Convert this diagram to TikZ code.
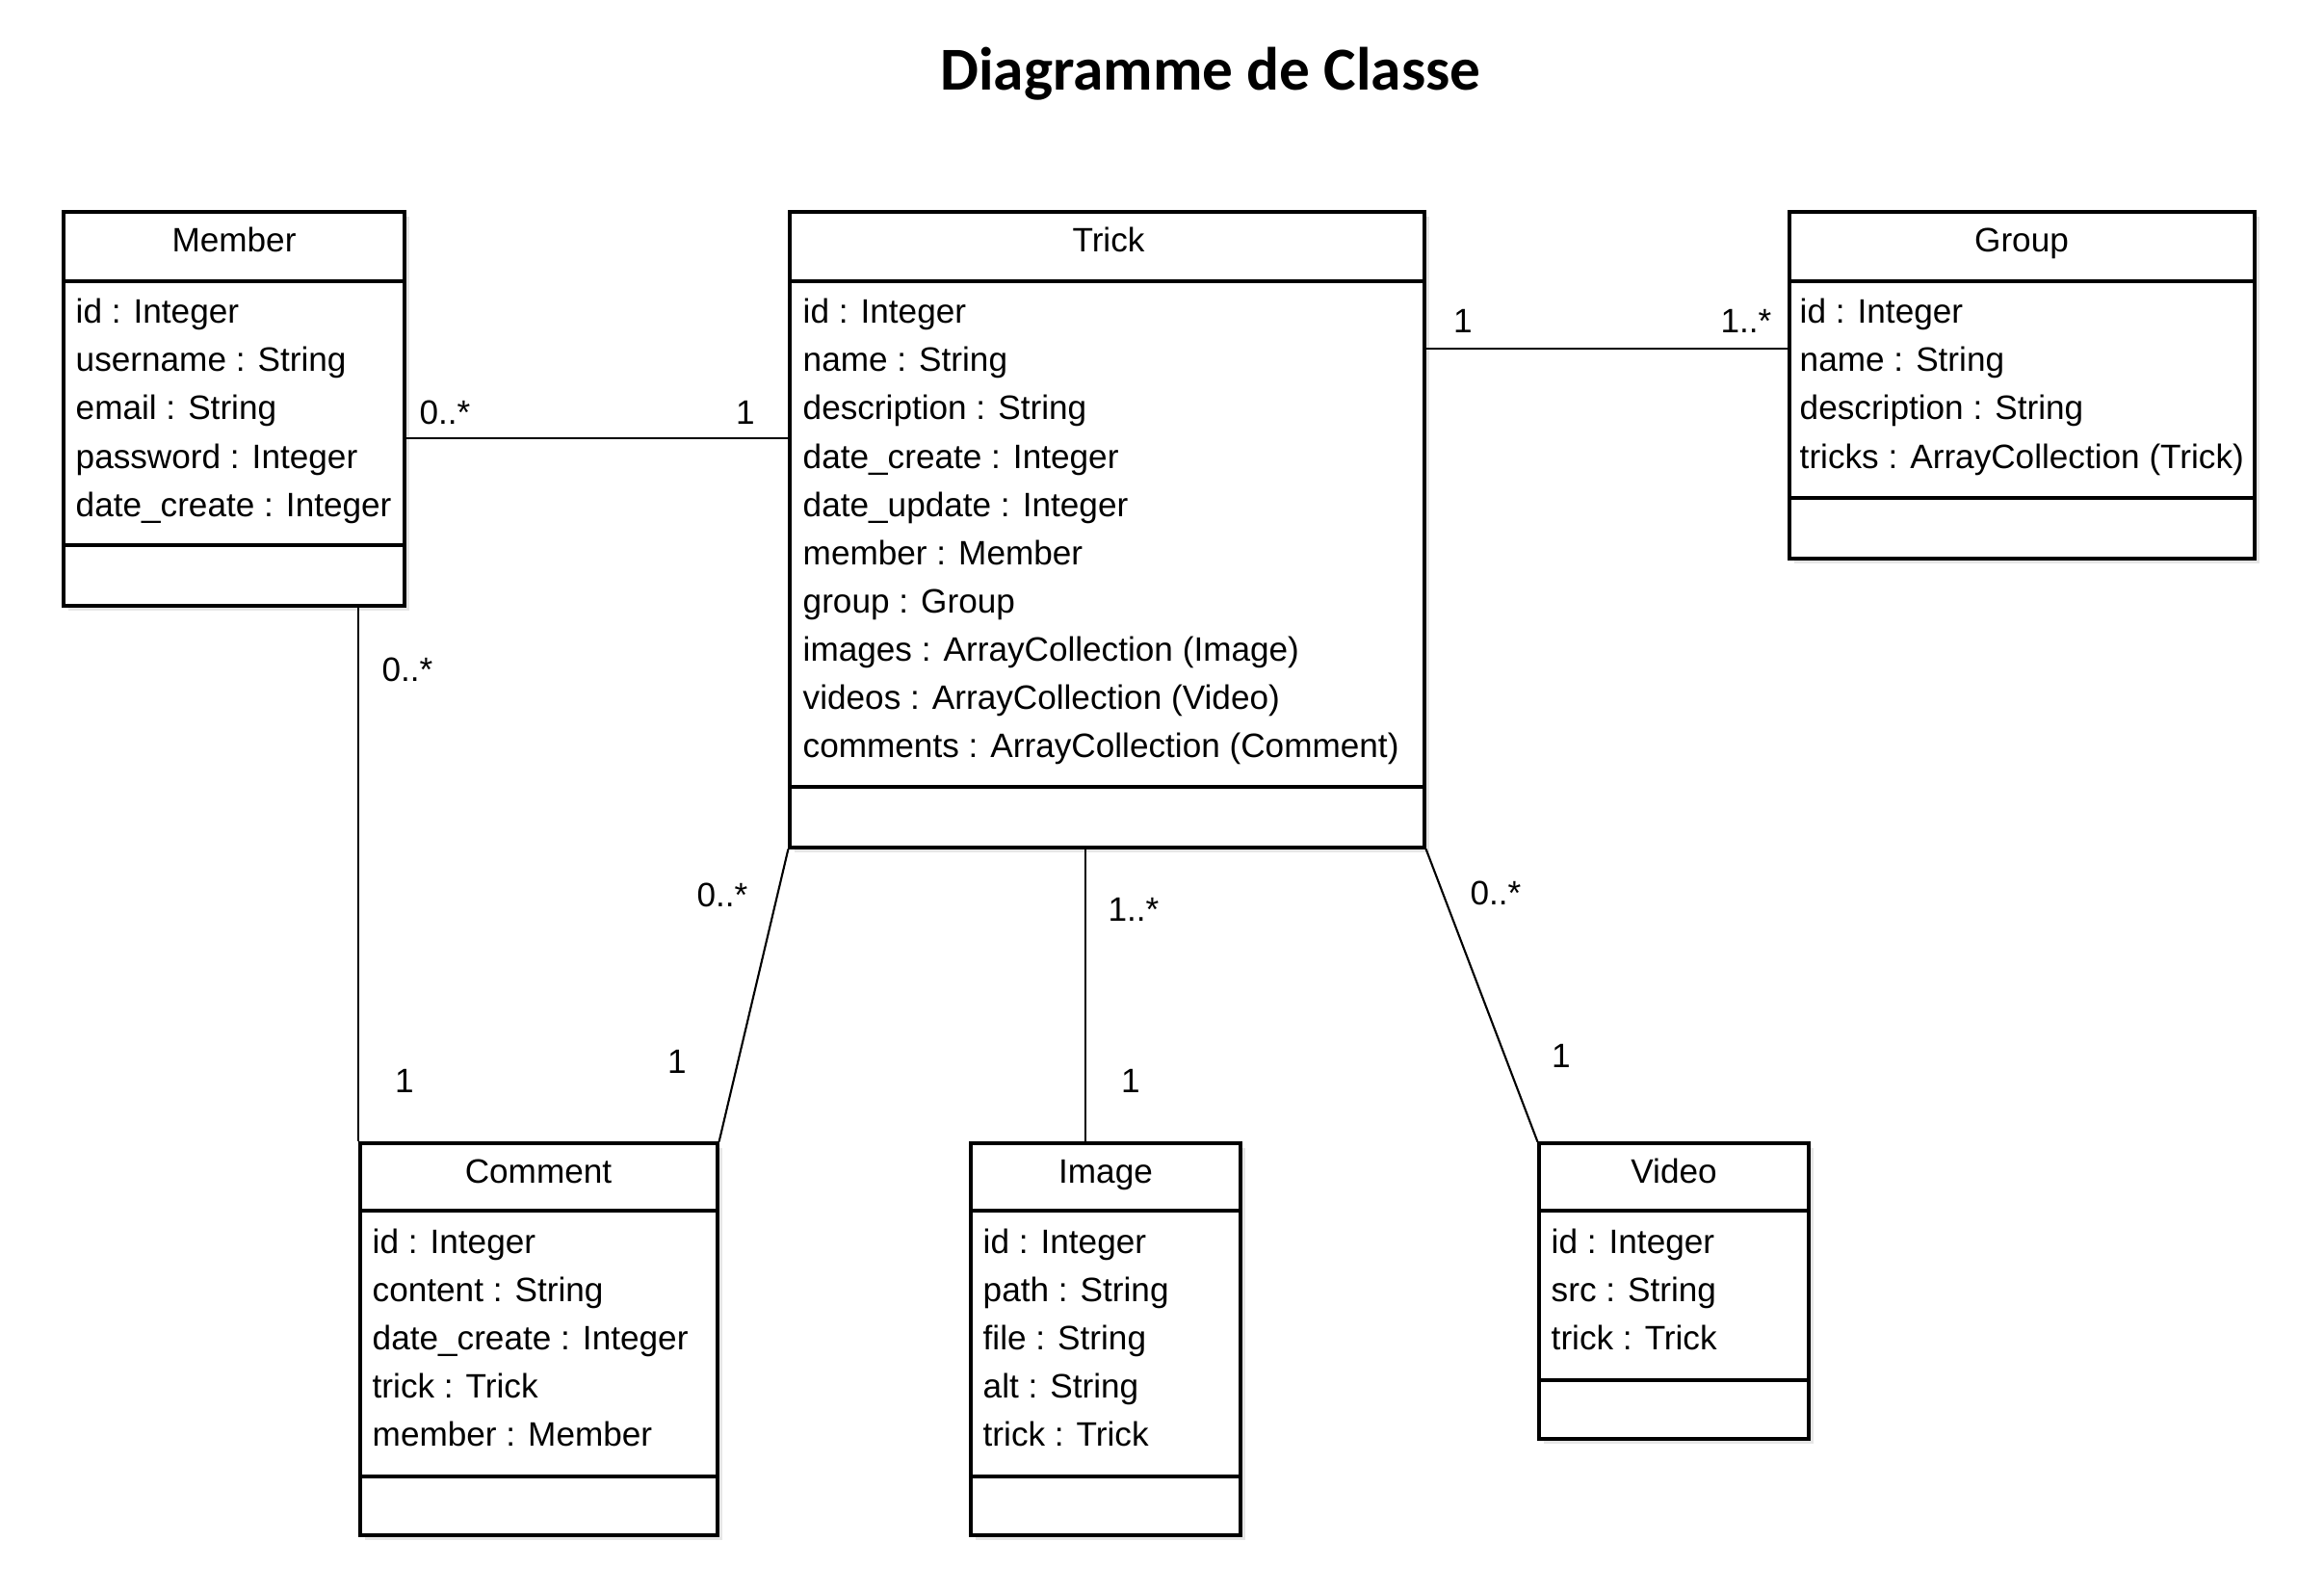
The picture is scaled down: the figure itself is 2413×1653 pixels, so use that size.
\documentclass[tikz,border=0pt]{standalone}
\usepackage{fontspec}
\setmainfont{Liberation Sans}
\newfontfamily\titlefont{Carlito}
\usetikzlibrary{fit,shadows}

\tikzset{
  classbox/.style={draw, line width=0.9pt, fill=white, inner sep=0pt,
    drop shadow={shadow xshift=0.05cm, shadow yshift=-0.05cm, opacity=0.2}},
  divider/.style={line width=0.9pt},
  txt/.style={inner sep=0pt, text height=0.89em, text depth=0.21em,
    font=\fontsize{10}{12}\selectfont},
  classname/.style={txt},
  attr/.style={txt, anchor=west},
  mult/.style={txt},
  assoc/.style={line width=0.6pt},
}

\begin{document}
\begin{tikzpicture}[x=0.01cm, y=-0.01cm]
  \useasboundingbox (0,0) rectangle (2413,1653);
  \node[font=\titlefont\bfseries\fontsize{18}{22}\selectfont] (title) at (1257,77) {Diagramme de Classe};

  % class boxes
  \node[classbox, fit={(66,220) (420,629)}] (member) {};
  \node[classbox, fit={(820,220) (1479,880)}] (trick) {};
  \node[classbox, fit={(1858,220) (2341,580)}] (group) {};
  \node[classbox, fit={(374,1187) (745,1594)}] (comment) {};
  \node[classbox, fit={(1008,1187) (1288,1594)}] (image) {};
  \node[classbox, fit={(1598,1187) (1878,1494)}] (video) {};

  \begin{scope}[divider]
    \draw (member.west |- 0,292) -- (member.east |- 0,292);
    \draw (member.west |- 0,566) -- (member.east |- 0,566);
    \draw (trick.west |- 0,292) -- (trick.east |- 0,292);
    \draw (trick.west |- 0,817) -- (trick.east |- 0,817);
    \draw (group.west |- 0,292) -- (group.east |- 0,292);
    \draw (group.west |- 0,517) -- (group.east |- 0,517);
    \draw (comment.west |- 0,1257) -- (comment.east |- 0,1257);
    \draw (comment.west |- 0,1533) -- (comment.east |- 0,1533);
    \draw (image.west |- 0,1257) -- (image.east |- 0,1257);
    \draw (image.west |- 0,1533) -- (image.east |- 0,1533);
    \draw (video.west |- 0,1257) -- (video.east |- 0,1257);
    \draw (video.west |- 0,1433) -- (video.east |- 0,1433);
  \end{scope}

  % class names
  \path
    (243,250) node[classname] (member-name){Member}
    (1151,250) node[classname] (trick-name){Trick}
    (2099,250) node[classname] (group-name){Group}
    (559,1217) node[classname] (comment-name){Comment}
    (1148,1217) node[classname] (image-name){Image}
    (1738,1217) node[classname] (video-name){Video};

  % attributes
  \path
    (78,324) node[attr] (member-1){id : Integer}
    (78,374) node[attr] (member-2){username : String}
    (78,424) node[attr] (member-3){email : String}
    (78,475) node[attr] (member-4){password : Integer}
    (78,525) node[attr] (member-5){date\_create : Integer};
  \path
    (833,324) node[attr] (trick-1){id : Integer}
    (833,374) node[attr] (trick-2){name : String}
    (833,424) node[attr] (trick-3){description : String}
    (833,475) node[attr] (trick-4){date\_create : Integer}
    (833,525) node[attr] (trick-5){date\_update : Integer}
    (833,575) node[attr] (trick-6){member : Member}
    (833,625) node[attr] (trick-7){group : Group}
    (833,675) node[attr] (trick-8){images : ArrayCollection (Image)}
    (833,725) node[attr] (trick-9){videos : ArrayCollection (Video)}
    (833,775) node[attr] (trick-10){comments : ArrayCollection (Comment)};
  \path
    (1868,324) node[attr] (group-1){id : Integer}
    (1868,374) node[attr] (group-2){name : String}
    (1868,424) node[attr] (group-3){description : String}
    (1868,475) node[attr] (group-4){tricks : ArrayCollection (Trick)};
  \path
    (386,1290) node[attr] (comment-1){id : Integer}
    (386,1340) node[attr] (comment-2){content : String}
    (386,1390) node[attr] (comment-3){date\_create : Integer}
    (386,1440) node[attr] (comment-4){trick : Trick}
    (386,1490) node[attr] (comment-5){member : Member};
  \path
    (1020,1290) node[attr] (image-1){id : Integer}
    (1020,1340) node[attr] (image-2){path : String}
    (1020,1390) node[attr] (image-3){file : String}
    (1020,1440) node[attr] (image-4){alt : String}
    (1020,1490) node[attr] (image-5){trick : Trick};
  \path
    (1610,1290) node[attr] (video-1){id : Integer}
    (1610,1340) node[attr] (video-2){src : String}
    (1610,1390) node[attr] (video-3){trick : Trick};

  % associations
  \begin{scope}[assoc]
    \draw (member.east |- 0,455) -- (trick.west |- 0,455);
    \draw (trick.east |- 0,362) -- (group.west |- 0,362);
    \draw (member.south -| comment.north west) -- (comment.north west);
    \draw (trick.south west) -- (comment.north east);
    \draw (trick.south -| 1127,0) -- (image.north -| 1127,0);
    \draw (trick.south east) -- (video.north west);
  \end{scope}

  % multiplicities
  \path
    (462,429) node[mult] (m-mt){0..*}
    (774,429) node[mult] (m-tm){1}
    (1519,334) node[mult] (m-tg){1}
    (1813,334) node[mult] (m-gt){1..*}
    (423,696) node[mult] (m-mc){0..*}
    (420,1123) node[mult] (m-cm){1}
    (750,930) node[mult] (m-tc){0..*}
    (703,1103) node[mult] (m-ct){1}
    (1177,945) node[mult] (m-ti){1..*}
    (1174,1123) node[mult] (m-it){1}
    (1553,928) node[mult] (m-tv){0..*}
    (1621,1097) node[mult] (m-vt){1};
\end{tikzpicture}
\end{document}
